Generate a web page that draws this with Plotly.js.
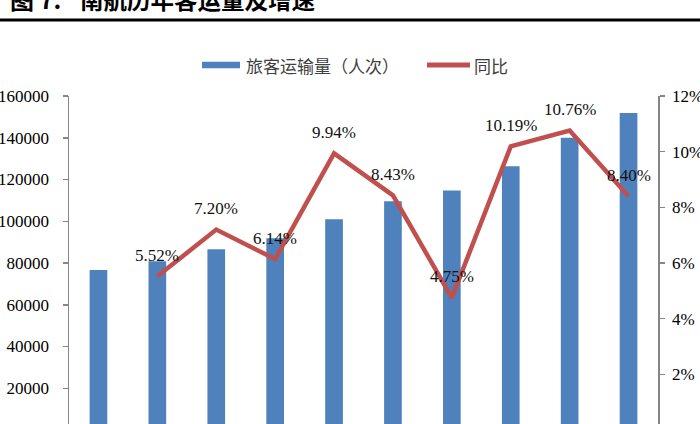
<!DOCTYPE html>
<html>
<head>
<meta charset="utf-8">
<script src="https://cdn.plot.ly/plotly-3.0.1.min.js"></script>
<style>
  html, body { margin: 0; padding: 0; background: #fff; overflow: hidden; }
  #chart { width: 700px; height: 470px; }
</style>
</head>
<body>
<div id="chart"></div>
<script>
// categorias (anios) y series
var years = ['2010', '2011', '2012', '2013', '2014', '2015', '2016', '2017', '2018', '2019'];
var passengers = [76600, 80800, 86600, 91900, 101000, 109600, 114700, 126400, 140000, 151800];
var growthYears = ['2011', '2012', '2013', '2014', '2015', '2016', '2017', '2018', '2019'];
var growth = [5.52, 7.20, 6.14, 9.94, 8.43, 4.75, 10.19, 10.76, 8.40];

var barName = '旅客运输量（人次）';
var lineName = '同比';
var titleNum = '图 7:';
var titleText = '南航历年客运量及增速';

var BLUE = '#4F81BD';
var RED = '#C0504D';
var AXIS = '#868686';
var SERIF = '"Liberation Serif", "Times New Roman", serif';
var CJK = '"Noto Sans CJK SC", sans-serif';

// area del grafico en pixeles
var L = 69, R = 658, T = 96, B = 430;
function px(x) { return (x - L) / (R - L); }
function py(y) { return (B - y) / (B - T); }

var traces = [
  {
    type: 'bar',
    x: years,
    y: passengers,
    marker: { color: BLUE },
    showlegend: false,
    hoverinfo: 'skip'
  },
  {
    type: 'scatter',
    mode: 'lines',
    x: growthYears,
    y: growth,
    yaxis: 'y2',
    line: { color: RED, width: 4.5 },
    showlegend: false,
    hoverinfo: 'skip'
  }
];

// etiquetas de datos (x como indice de categoria)
var annotations = growth.map(function (v, i) {
  return {
    x: years.indexOf(growthYears[i]), y: v, xref: 'x', yref: 'y2',
    text: v.toFixed(2) + '%',
    showarrow: false, yshift: 21,
    font: { family: SERIF, size: 17, color: '#111' }
  };
});

// titulo cortado arriba
annotations.push({
  xref: 'paper', yref: 'paper', x: px(8), y: py(18),
  xanchor: 'left', yanchor: 'bottom', showarrow: false,
  text: '<b>' + titleNum + '</b>',
  font: { family: CJK, size: 24, color: '#000' }
});
annotations.push({
  xref: 'paper', yref: 'paper', x: px(78), y: py(18),
  xanchor: 'left', yanchor: 'bottom', showarrow: false,
  text: '<b>' + titleText + '</b>',
  font: { family: CJK, size: 23.5, color: '#000' }
});

// leyenda manual
annotations.push({
  xref: 'paper', yref: 'paper', x: px(244), y: py(65),
  xanchor: 'left', yanchor: 'middle', showarrow: false,
  text: barName, font: { family: CJK, size: 17, color: '#404040' }
});
annotations.push({
  xref: 'paper', yref: 'paper', x: px(472), y: py(65),
  xanchor: 'left', yanchor: 'middle', showarrow: false,
  text: lineName, font: { family: CJK, size: 17, color: '#404040' }
});

var shapes = [
  { type: 'line', xref: 'paper', yref: 'paper', x0: px(202), x1: px(240), y0: py(65), y1: py(65),
    line: { color: BLUE, width: 6.5 } },
  { type: 'line', xref: 'paper', yref: 'paper', x0: px(427), x1: px(470), y0: py(65), y1: py(65),
    line: { color: RED, width: 5 } },
  { type: 'line', xref: 'paper', yref: 'paper', x0: px(-5), x1: px(705), y0: py(20), y1: py(20),
    line: { color: '#000', width: 3 } }
];

var layout = {
  width: 700,
  height: 470,
  margin: { l: L, r: 700 - R, t: T, b: 470 - B },
  paper_bgcolor: '#fff',
  plot_bgcolor: '#fff',
  bargap: 0.7,
  showlegend: false,
  xaxis: {
    type: 'category',
    range: [-0.5, years.length - 0.5],
    showline: true, linecolor: AXIS, linewidth: 1.5,
    ticks: '', showgrid: false,
    // las etiquetas de anio quedan fuera del recorte, como en la referencia
    showticklabels: false
  },
  yaxis: {
    range: [0, 160000], dtick: 20000, tickformat: 'd',
    showline: true, linecolor: AXIS, linewidth: 1.5,
    ticks: 'outside', ticklen: 5, tickcolor: AXIS, tickwidth: 1.5,
    showgrid: false, zeroline: false,
    ticklabelstandoff: 10,
    tickfont: { family: SERIF, size: 17, color: '#000' }
  },
  yaxis2: {
    overlaying: 'y', side: 'right',
    range: [0, 12], dtick: 2, ticksuffix: '%',
    showline: true, linecolor: AXIS, linewidth: 1.5,
    ticks: 'outside', ticklen: 5, tickcolor: AXIS, tickwidth: 1.5,
    showgrid: false, zeroline: false,
    ticklabelstandoff: 4,
    tickfont: { family: SERIF, size: 17, color: '#000' }
  },
  annotations: annotations,
  shapes: shapes
};

Plotly.newPlot('chart', traces, layout, { displayModeBar: false, staticPlot: true });
</script>
</body>
</html>
